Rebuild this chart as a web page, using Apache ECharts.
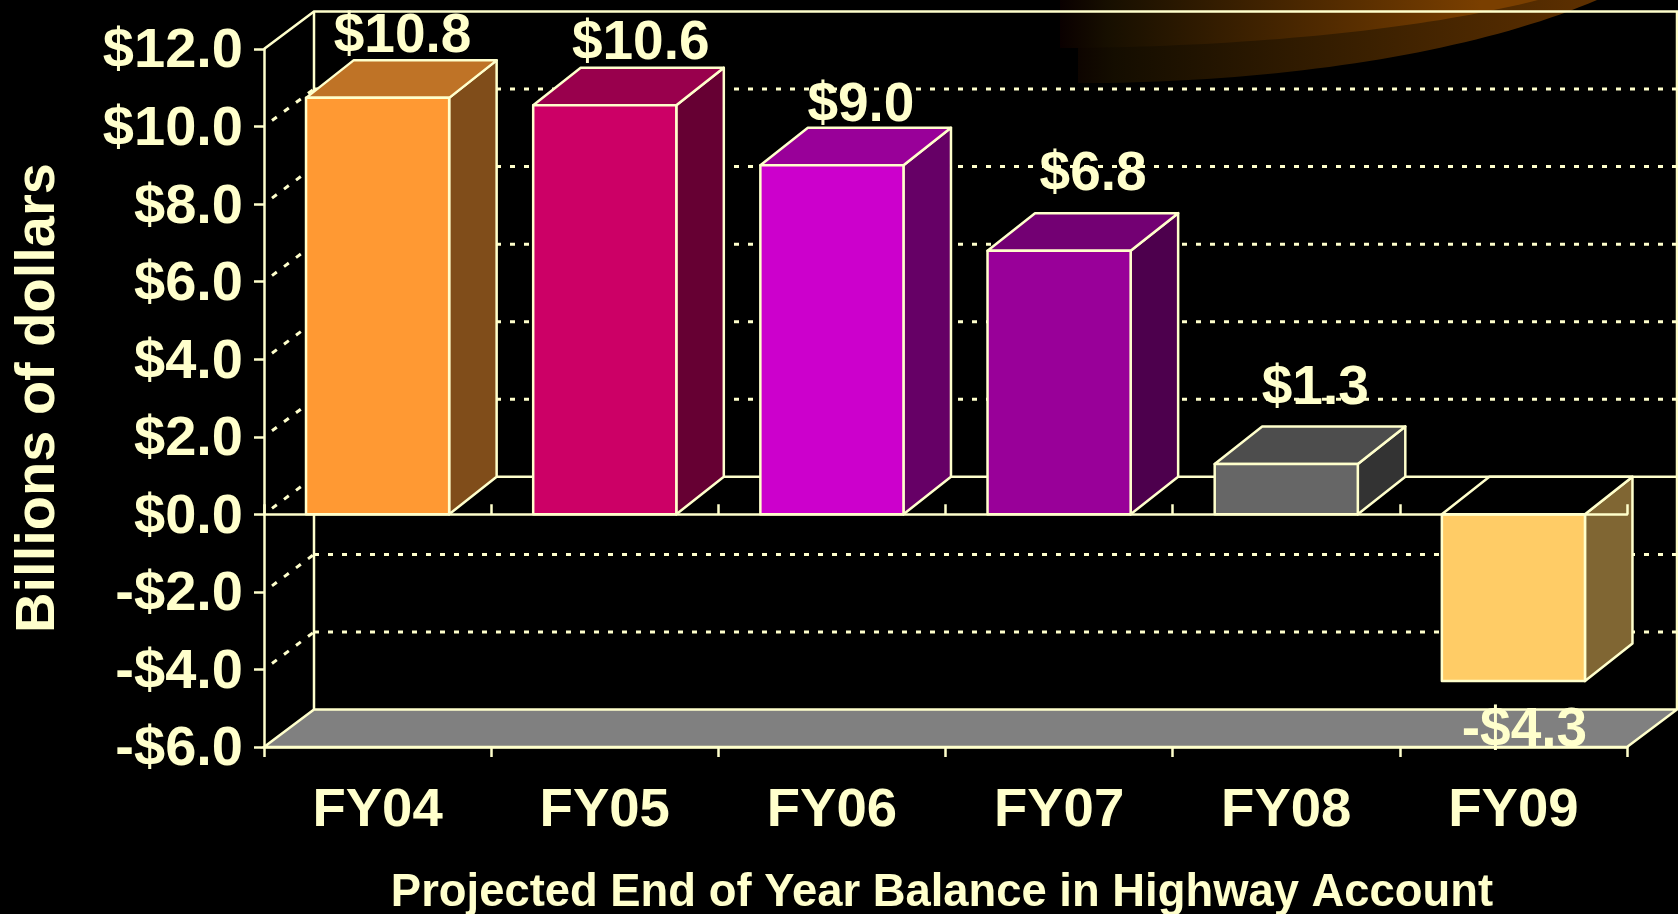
<!DOCTYPE html>
<html>
<head>
<meta charset="utf-8">
<title>Highway Account balance</title>
<style>
html, body { margin: 0; padding: 0; background: #000; }
#chart { width: 1678px; height: 914px; }
</style>
<script src="https://cdn.jsdelivr.net/npm/echarts@6/dist/echarts.min.js"></script>
</head>
<body>
<div id="chart"></div>
<script>
// data
var categories = ['FY04', 'FY05', 'FY06', 'FY07', 'FY08', 'FY09'];
var balances = [10.74, 10.55, 9.0, 6.8, 1.3, -4.3];
var balanceLabels = ['$10.8', '$10.6', '$9.0', '$6.8', '$1.3', '-$4.3'];
var gridValues = [-4, -2, 2, 4, 6, 8, 10];

// bar colours: front, top, side
var frontColors = ['#FF9933', '#CC0066', '#CC00CC', '#990099', '#666666', '#FFCC66'];
var topColors = ['#BF7326', '#99004D', '#990099', '#730073', '#4D4D4D', '#000000'];
var sideColors = ['#804D1A', '#660033', '#660066', '#4D004D', '#333333', '#806633'];
// value labels were placed by hand in the original
var labelShiftX = [25, 36, 29, 34, 29, 11];
var labelShiftY = [-61, -61, -60, -76, -75, 50];

var cream = '#FFFFCC';
var fontFamily = '"Liberation Sans", Arial, sans-serif';
var wallDX = 50, wallDY = -37.5;   // depth of the 3d box
var barDX = 47.5, barDY = -37.5;
var barRatio = 0.63;

var myChart = echarts.init(document.getElementById('chart'));

// outline of the background swoosh, a bezier flattened to points
function curvePoints(start, c1, c2, end) {
    var pts = [];
    for (var k = 0; k <= 40; k++) {
        var t = k / 40, u = 1 - t;
        pts.push([
            u * u * u * start[0] + 3 * u * u * t * c1[0] + 3 * u * t * t * c2[0] + t * t * t * end[0],
            u * u * u * start[1] + 3 * u * u * t * c1[1] + 3 * u * t * t * c2[1] + t * t * t * end[1]
        ]);
    }
    return pts;
}

// dotted grid on the left and back walls
function renderWallLine(params, api) {
    var cs = params.coordSys;
    var y = api.coord([0, api.value(1)])[1];
    var left = cs.x, right = cs.x + cs.width;
    return {
        type: 'group',
        children: [
            {
                type: 'line',
                shape: { x1: left + 8, y1: y - 6, x2: left + wallDX, y2: y + wallDY },
                style: { stroke: cream, lineWidth: 3, lineDash: [6, 9], fill: null }
            },
            {
                type: 'line',
                shape: { x1: left + wallDX, y1: y + wallDY, x2: right + wallDX, y2: y + wallDY },
                style: { stroke: cream, lineWidth: 3, lineDash: [5, 9], fill: null }
            }
        ]
    };
}

// floor and wall outlines
function renderBox(params, api) {
    var cs = params.coordSys;
    var left = cs.x, right = cs.x + cs.width, top = cs.y, bottom = cs.y + cs.height;
    var zero = api.coord([0, 0])[1];
    var solid = { stroke: cream, lineWidth: 2.5, fill: null };
    return {
        type: 'group',
        children: [
            { type: 'polyline', shape: { points: [[left, top], [left + wallDX, top + wallDY], [right + wallDX, top + wallDY], [right + wallDX, bottom + wallDY]] }, style: solid },
            { type: 'line', shape: { x1: left + wallDX, y1: top + wallDY, x2: left + wallDX, y2: bottom + wallDY }, style: solid },
            { type: 'line', shape: { x1: left + 8, y1: zero - 6, x2: left + wallDX, y2: zero + wallDY }, style: { stroke: cream, lineWidth: 3, lineDash: [6, 9], fill: null } },
            { type: 'line', shape: { x1: left + wallDX, y1: zero + wallDY, x2: right + wallDX, y2: zero + wallDY }, style: solid },
            {
                type: 'polygon',
                shape: { points: [[left, bottom], [right, bottom], [right + wallDX, bottom + wallDY], [left + wallDX, bottom + wallDY]] },
                style: { fill: '#808080', stroke: cream, lineWidth: 2.5 }
            }
        ]
    };
}

function renderBar(params, api) {
    var i = api.value(0);
    var base = api.coord([i, 0]);
    var end = api.coord([i, api.value(1)]);
    var w = api.size([1, 0])[0] * barRatio;
    var x0 = base[0] - w / 2, x1 = base[0] + w / 2;
    var yTop = Math.min(base[1], end[1]), yBot = Math.max(base[1], end[1]);
    var edge = { stroke: cream, lineWidth: 2.5, lineJoin: 'round' };
    return {
        type: 'group',
        children: [
            {
                type: 'polygon',
                shape: { points: [[x1, yTop], [x1 + barDX, yTop + barDY], [x1 + barDX, yBot + barDY], [x1, yBot]] },
                style: Object.assign({ fill: sideColors[i] }, edge)
            },
            {
                type: 'polygon',
                shape: { points: [[x0, yTop], [x0 + barDX, yTop + barDY], [x1 + barDX, yTop + barDY], [x1, yTop]] },
                style: Object.assign({ fill: topColors[i] }, edge)
            },
            {
                type: 'rect',
                shape: { x: x0, y: yTop, width: w, height: yBot - yTop },
                style: Object.assign({ fill: frontColors[i] }, edge)
            },
            {
                type: 'text',
                z2: 10,
                x: base[0] + labelShiftX[i],
                y: (api.value(1) < 0 ? yBot : yTop) + labelShiftY[i],
                style: {
                    text: balanceLabels[i],
                    fill: cream,
                    font: 'bold 55px ' + fontFamily,
                    align: 'center',
                    verticalAlign: 'middle'
                }
            }
        ]
    };
}

var axisStyle = { color: cream, width: 2.5 };

var option = {
    backgroundColor: '#000',
    animation: false,
    graphic: [
        {   // orange swoosh from the slide background
            type: 'polygon',
            z: -2,
            shape: {
                points: [[1060, 0], [1060, 48], [1078, 48], [1078, 83]].concat(
                    curvePoints([1107, 83], [1300, 80], [1480, 50], [1597, 0]))
            },
            style: {
                fill: new echarts.graphic.LinearGradient(0, 0, 1, 0, [
                    { offset: 0, color: '#0a0000' },
                    { offset: 0.1, color: '#140d00' },
                    { offset: 0.6, color: '#3d2100' },
                    { offset: 1, color: '#5e3000' }
                ])
            }
        },
        {
            type: 'polygon',
            z: -1,
            shape: {
                points: [[1060, 0], [1060, 48]].concat(
                    curvePoints([1075, 48], [1250, 46], [1420, 30], [1538, 0]))
            },
            style: {
                fill: new echarts.graphic.LinearGradient(0, 0, 1, 0, [
                    { offset: 0, color: '#0a0000' },
                    { offset: 0.1, color: '#170f00' },
                    { offset: 0.5, color: '#4a2700' },
                    { offset: 0.88, color: '#7a3f00' },
                    { offset: 1, color: '#7a3f00' }
                ])
            }
        }
    ],
    grid: { left: 264, right: 51, top: 49, bottom: 167, outerBoundsMode: 'none' },
    xAxis: [
        {
            type: 'category',
            data: categories,
            z: 3,
            axisLine: { onZero: false, lineStyle: axisStyle },
            axisTick: { show: true, length: 10, lineStyle: axisStyle },
            axisLabel: {
                color: cream,
                fontFamily: fontFamily,
                fontWeight: 'bold',
                fontSize: 54.5,
                margin: 36,
                interval: 0
            },
            name: 'Projected End of Year Balance in Highway Account',
            nameLocation: 'middle',
            nameGap: 124,
            nameTextStyle: {
                color: cream,
                fontFamily: fontFamily,
                fontWeight: 'bold',
                fontSize: 45.4,
                padding: [0, 7, 0, 0]
            }
        },
        {   // zero line with its ticks, drawn over the bars
            type: 'category',
            data: categories,
            z: 3,
            axisLine: { onZero: true, lineStyle: axisStyle },
            axisTick: { show: true, length: 10, lineStyle: axisStyle },
            axisLabel: { show: false }
        }
    ],
    yAxis: {
        type: 'value',
        min: -6,
        max: 12,
        interval: 2,
        z: 3,
        splitLine: { show: false },
        axisLine: { show: true, onZero: false, lineStyle: axisStyle },
        axisTick: { show: true, length: 10, lineStyle: axisStyle },
        axisLabel: {
            margin: 21,
            formatter: function (v) {
                return '{tick|' + (v < 0 ? '-$' : '$') + Math.abs(v).toFixed(1) + '}';
            },
            rich: {
                tick: {
                    color: cream,
                    fontFamily: fontFamily,
                    fontWeight: 'bold',
                    fontSize: 56,
                    padding: [6, 0, 0, 0]
                }
            }
        },
        name: 'Billions of dollars',
        nameLocation: 'middle',
        nameRotate: 90,
        nameGap: 197,
        nameTextStyle: { color: cream, fontFamily: fontFamily, fontWeight: 'bold', fontSize: 56 }
    },
    series: [
        {
            type: 'custom',
            z: 1,
            silent: true,
            renderItem: renderWallLine,
            encode: { x: 0, y: 1 },
            data: gridValues.map(function (v) { return [0, v]; })
        },
        {
            type: 'custom',
            z: 1,
            silent: true,
            renderItem: renderBox,
            encode: { x: 0, y: 1 },
            data: [[0, 0]]
        },
        {
            type: 'custom',
            z: 2,
            silent: true,
            renderItem: renderBar,
            encode: { x: 0, y: 1 },
            data: balances.map(function (v, i) { return [i, v]; })
        }
    ]
};

myChart.setOption(option);
</script>
</body>
</html>
